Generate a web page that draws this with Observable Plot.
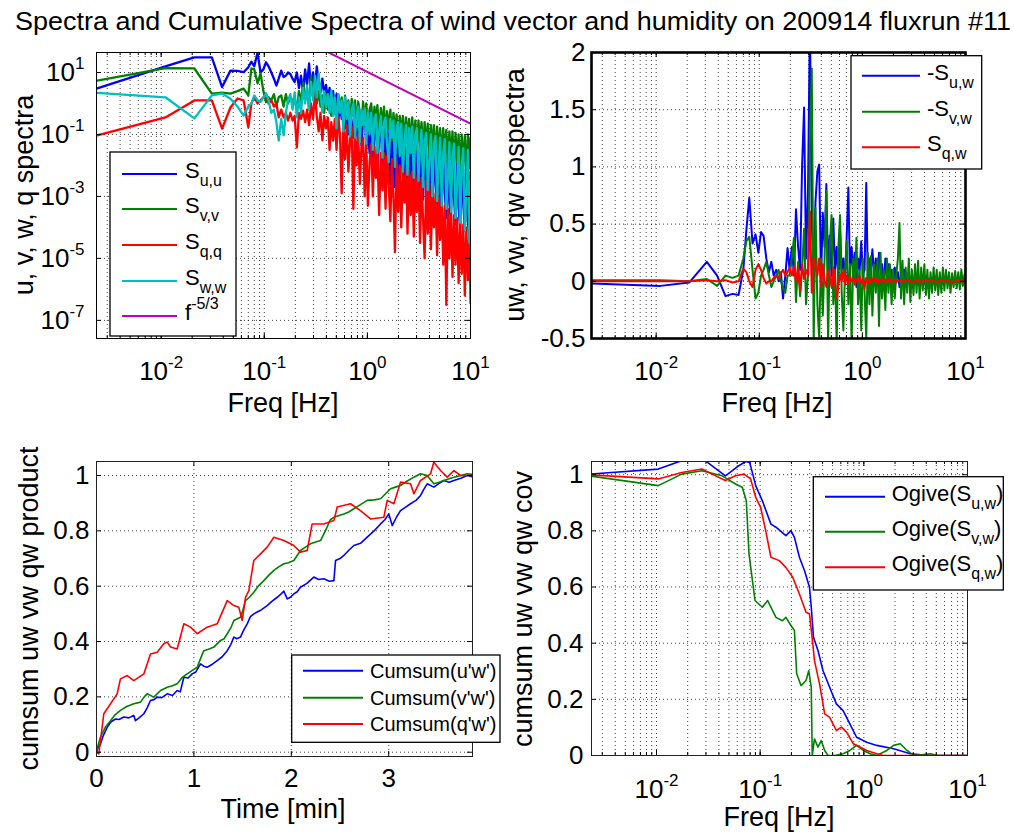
<!DOCTYPE html>
<html><head><meta charset="utf-8">
<script src="https://cdn.jsdelivr.net/npm/d3@7"></script>
<script src="https://cdn.jsdelivr.net/npm/@observablehq/plot@0.6"></script>
<style>
body{margin:0;background:#fff;}
#fig{position:relative;width:1014px;height:835px;overflow:hidden;background:#fff;font-family:"Liberation Sans",Arial,Helvetica,sans-serif;}
#fig svg{position:absolute;overflow:visible;}
</style></head><body><div id="fig"></div>
<script>
// ---------- DATA ----------
const titleText = "Spectra and Cumulative Spectra of wind vector and humidity on 200914 fluxrun #11";

// shared frequency grid (Hz) for spectra and cospectra
const freq = [
0.0024,0.011,0.021,0.031,0.039,0.047,0.055,0.063,0.070,0.075,
0.080,0.086,0.092,0.098,0.104,0.110,0.117,0.124,0.131,0.138,
0.146,0.154,0.162,0.170,0.179,0.188,0.197,0.207,0.217,0.227,
0.238,0.249,0.260,0.272,0.284,0.297,0.310,0.323,0.337,0.351,
0.366,0.381,0.397,0.413,0.430,0.447,0.465,0.483,0.502,0.522,
0.542,0.563,0.585,0.607,0.630,0.654,0.679,0.705,0.731,0.758,
0.786,0.815,0.845,0.876,0.908,0.941,0.975,1.01,1.05,1.09,
1.13,1.17,1.21,1.25,1.30,1.35,1.40,1.45,1.50,1.55,
1.61,1.67,1.73,1.79,1.85,1.92,1.99,2.06,2.13,2.21,
2.29,2.37,2.45,2.54,2.63,2.72,2.82,2.92,3.02,3.13,
3.24,3.35,3.47,3.59,3.72,3.85,3.99,4.13,4.27,4.42,
4.58,4.74,4.91,5.08,5.26,5.44,5.63,5.83,6.03,6.24,
6.46,6.69,6.92,7.16,7.41,7.67,7.94,8.22,8.51,8.81,
9.12,9.44,9.77,10.0];

// spectra, log10 of the value
const suuExp = [
0.49,1.2,1.49,1.49,0.53,1.06,1.05,1.01,1.17,1.35,
1.2,1.64,1.0,1.1,1.33,1.2,1.0,0.8,0.58,0.8,
1.06,0.85,0.9,1.0,0.95,0.8,0.69,1.0,0.5,0.9,
0.4,1.1,0.6,1.29,0.45,1.0,0.5,1.2,0.7,0.36,
0.8,0.3,0.6,0.1,0.5,0.0,0.4,-0.2,0.3,-0.6,
0.1,-0.5,-0.1,-0.8,0.0,-1.0,-0.2,-0.6,-1.1,-0.1,
-0.9,-1.2,-0.3,-1.35,-0.5,-0.2,-1.4,-0.7,-1.6,-0.35,
-1.9,-0.9,-0.4,-2.0,-1.2,-0.5,-2.2,-0.9,-2.4,-0.6,
-1.5,-2.6,-0.7,-2.0,-2.7,-0.8,-1.8,-2.7,-0.85,-2.3,
-2.8,-1.0,-2.0,-2.9,-0.9,-2.5,-3.0,-1.1,-2.2,-3.0,
-1.2,-2.8,-3.1,-1.3,-2.5,-3.2,-1.2,-2.9,-3.3,-1.4,
-2.6,-3.5,-1.4,-3.0,-3.6,-1.5,-2.8,-3.7,-1.6,-3.2,
-3.8,-1.7,-3.0,-3.9,-1.8,-3.4,-4.0,-1.9,-3.2,-4.1,
-2.0,-3.8,-4.35,-2.2];
const svvExp = [
0.74,1.14,1.13,0.32,0.35,0.32,0.4,0.48,0.26,1.13,
1.1,0.65,0.97,0.4,0.04,0.2,0.1,0.3,-0.1,0.2,
0.26,-0.1,0.3,0.0,0.2,0.1,0.16,-0.2,0.4,0.0,
0.68,0.1,0.5,-0.2,0.9,0.2,0.6,0.0,0.4,-0.1,
0.26,-0.3,0.3,-0.2,0.2,-0.4,0.15,-0.3,-0.4,0.3,
-0.2,0.2,-0.5,0.25,-0.3,0.1,-0.6,0.15,-0.4,0.1,
-0.7,0.05,-0.3,-0.75,0.05,-0.5,0.0,-0.8,-0.2,0.0,
-0.9,-0.1,-0.6,-0.05,-1.0,-0.15,-0.7,-0.1,-1.1,-0.25,
-0.8,-0.2,-1.2,-0.3,-0.9,-0.35,-1.29,-0.4,-1.0,-0.4,
-1.35,-0.45,-1.1,-0.5,-1.45,-0.45,-1.2,-0.55,-1.5,-0.55,
-1.3,-0.6,-1.6,-0.6,-1.4,-0.65,-1.7,-0.7,-1.5,-0.7,
-1.8,-0.75,-1.6,-0.8,-1.9,-0.8,-1.7,-0.85,-2.0,-0.9,
-1.8,-0.9,-2.1,-0.95,-1.9,-1.0,-2.2,-1.0,-2.0,-1.05,
-2.26,-1.0,-2.1,-1.1];
const sqqExp = [
-1.03,-0.45,0.1,0.1,-0.81,-0.13,0.16,0.1,-0.77,0.0,
0.2,0.0,0.1,0.2,0.32,0.0,0.1,-0.1,0.0,-0.45,
-0.2,-0.45,-0.3,-0.55,-0.3,-0.55,-0.4,-1.42,-0.3,-0.5,
-0.23,-0.6,-0.2,-0.7,0.0,-0.5,0.32,-0.4,-0.9,-0.3,
-1.19,-0.4,-0.8,-0.45,-1.5,-0.6,-1.2,-0.5,-1.5,-0.45,
-1.0,-2.9,-0.6,-1.8,-0.7,-2.2,-1.2,-0.75,-3.4,-0.9,
-2.0,-1.0,-2.6,-1.4,-1.1,-3.0,-1.2,-3.3,-1.9,-1.3,
-3.0,-1.4,-2.4,-1.45,-3.6,-1.6,-2.8,-1.6,-3.4,-1.7,
-2.6,-3.8,-1.8,-3.0,-4.8,-1.9,-3.5,-2.0,-4.0,-2.1,
-3.2,-2.1,-4.2,-2.15,-3.6,-2.2,-4.3,-2.3,-3.5,-2.35,
-4.5,-2.4,-3.8,-5.0,-2.5,-4.2,-2.6,-4.7,-2.8,-4.0,
-2.9,-4.9,-3.0,-4.4,-3.1,-5.2,-3.3,-6.5,-3.4,-5.0,
-3.5,-5.6,-3.6,-5.2,-3.7,-5.8,-3.8,-5.5,-3.9,-6.2,
-4.0,-5.7,-4.1,-6.45];
const swwExp = [
0.34,0.2,-0.48,0.26,0.32,0.15,-0.1,-0.39,-0.1,0.0,
0.26,0.1,0.05,0.2,0.32,0.1,-0.3,-0.2,-0.6,-1.2,
-0.5,-1.03,-0.3,0.1,0.3,-0.2,0.36,-0.45,0.2,-0.3,
0.5,0.0,0.58,-0.2,0.7,0.1,0.9,0.2,0.97,0.3,
-0.29,0.4,-0.1,0.3,-0.3,0.42,-0.4,0.2,-0.8,0.3,
-0.3,0.1,-0.9,0.2,-0.5,0.05,-1.05,-0.2,0.0,-1.1,
-0.4,-0.1,-1.25,-0.2,-0.7,-0.15,-1.3,-0.3,-1.0,-0.3,
-1.5,-0.5,-0.35,-1.6,-0.9,-0.4,-1.75,-0.6,-0.45,-1.3,
-1.9,-0.5,-1.1,-0.55,-2.05,-0.8,-0.6,-1.7,-0.65,-2.2,
-1.2,-0.7,-2.3,-0.8,-1.6,-0.75,-2.4,-1.0,-0.8,-2.5,
-1.5,-0.85,-2.7,-1.2,-0.95,-2.8,-1.8,-1.0,-3.0,-1.3,
-1.05,-3.15,-2.0,-1.1,-3.3,-1.6,-1.15,-3.4,-2.4,-1.25,
-3.5,-1.7,-1.3,-3.7,-2.6,-1.4,-3.85,-2.0,-1.45,-4.1,
-2.8,-1.5,-4.5,-2.5];
// f^-5/3 reference line (end points)
const slopeF = [0.3, 10];
const slopeS = [77.6, 0.224];

// cospectra (linear)
const suw = [
-0.02,-0.04,-0.01,0.17,0.05,-0.13,-0.11,-0.12,0.1,0.45,
0.73,0.33,0.41,0.25,0.43,0.4,0.2,0.08,0.17,0.05,
0.1,0.0,0.08,-0.15,0.05,0.29,0.1,0.3,0.05,0.63,
0.3,0.1,1.0,1.52,0.2,0.8,2.3,0.5,0.1,0.7,
0.96,1.02,0.0,0.6,0.3,0.85,0.1,0.4,0.05,0.55,
0.1,0.3,0.0,0.45,0.1,0.2,0.0,0.4,0.82,0.05,
0.3,0.1,0.25,-0.05,0.2,0.1,0.35,0.05,0.1,0.86,
0.0,0.2,0.1,0.28,0.05,0.2,0.0,0.25,0.1,0.15,
-0.05,0.2,0.05,0.15,0.0,0.1,-0.03,0.12,0.02,0.08,
-0.05,0.06,0.0,0.1,-0.03,0.05,0.0,0.04,-0.05,0.03,
-0.02,0.04,-0.03,0.03,0.0,0.03,-0.02,0.02,-0.03,0.02,
0.0,0.03,-0.02,0.02,-0.01,0.02,0.0,0.02,-0.02,0.01,
0.0,0.02,-0.01,0.01,0.0,0.02,-0.01,0.01,0.0,0.01,
-0.01,0.01,0.0,0.01];
const svw = [
0.01,0.01,0.0,0.02,-0.04,0.05,0.03,0.05,0.2,0.35,
0.39,0.1,-0.15,-0.1,0.05,0.1,0.17,0.05,-0.05,0.0,
0.05,0.1,0.0,-0.06,-0.1,0.05,0.05,0.2,0.38,-0.18,
0.17,-0.13,0.1,0.46,-0.2,0.05,1.23,1.86,-0.55,0.64,
-0.2,-0.5,0.2,-0.3,0.2,0.79,-0.55,0.3,0.58,-0.2,
0.1,-0.55,0.3,0.58,-0.1,-0.43,0.1,0.35,-0.2,0.15,
-0.55,0.2,0.0,0.38,-0.2,0.1,-0.43,0.2,-0.1,-0.5,
0.25,-0.2,0.22,-0.3,0.15,-0.1,0.2,-0.39,0.25,-0.15,
0.1,-0.25,0.2,-0.1,0.15,-0.2,0.1,-0.15,0.05,0.2,
0.51,-0.15,0.18,-0.2,0.12,-0.1,0.2,-0.18,0.1,-0.12,
0.15,-0.1,0.18,-0.15,0.12,-0.08,0.15,-0.12,0.1,-0.15,
0.08,-0.1,0.12,-0.08,0.1,-0.12,0.08,-0.1,0.12,-0.08,
0.1,-0.06,0.08,-0.1,0.07,-0.05,0.09,-0.06,0.08,-0.07,
0.1,-0.04,0.06,0.03];
const sqw = [
0.0,0.0,0.0,0.01,0.0,0.01,-0.01,0.0,0.11,0.08,
0.0,-0.05,0.1,0.15,0.1,0.03,-0.02,0.0,0.0,0.03,
0.05,0.02,0.07,0.1,0.05,0.08,0.12,0.05,0.13,0.0,
0.12,-0.08,0.15,0.02,0.1,0.05,0.61,-0.1,0.2,0.15,
0.05,0.2,-0.05,0.15,0.0,-0.05,0.1,0.05,-0.05,0.12,
0.0,-0.15,-0.04,0.06,0.0,0.1,-0.03,0.05,-0.02,0.04,
0.0,0.03,-0.03,0.02,0.0,0.04,-0.02,0.02,-0.06,0.03,
-0.02,0.02,-0.01,0.02,0.0,0.03,-0.02,0.01,0.0,0.02,
-0.01,0.01,0.0,0.02,-0.01,0.01,0.0,0.01,-0.01,0.01,
0.0,0.01,-0.01,0.01,0.0,0.01,0.0,0.01,-0.01,0.0,
0.01,0.0,0.01,-0.01,0.0,0.01,0.0,0.0,0.01,0.0,
0.0,0.01,0.0,0.0,-0.01,0.0,0.01,0.0,0.0,0.0,
0.01,0.0,0.0,0.0,-0.01,0.0,0.0,0.01,0.0,0.0,
0.0,0.0,0.0,0.0];

// cumulative sums (time in minutes)
const uwT = [0,0.02,0.041,0.07,0.09,0.110,0.15,0.195,0.23,0.281,0.33,0.383,0.400,0.44,0.486,0.52,0.554,0.59,0.623,0.67,0.726,0.78,0.828,0.86,0.880,0.897,0.94,0.982,1.02,1.068,1.10,1.136,1.19,1.239,1.29,1.342,1.38,1.410,1.44,1.478,1.51,1.547,1.58,1.615,1.68,1.752,1.80,1.855,1.89,1.923,1.958,1.99,2.026,2.06,2.094,2.16,2.231,2.28,2.334,2.39,2.437,2.454,2.50,2.539,2.59,2.642,2.71,2.779,2.85,2.916,2.96,3.001,3.036,3.08,3.121,3.17,3.224,3.28,3.327,3.36,3.395,3.463,3.51,3.566,3.62,3.669,3.74,3.806,3.857];
const uwV = [0,0.02,0.030,0.06,0.075,0.090,0.11,0.120,0.118,0.127,0.124,0.133,0.114,0.125,0.139,0.16,0.187,0.19,0.199,0.197,0.211,0.205,0.223,0.218,0.247,0.271,0.268,0.283,0.29,0.319,0.311,0.307,0.318,0.331,0.345,0.367,0.39,0.416,0.41,0.416,0.44,0.464,0.49,0.500,0.512,0.530,0.545,0.560,0.57,0.582,0.554,0.56,0.572,0.58,0.596,0.61,0.633,0.624,0.627,0.618,0.620,0.693,0.70,0.711,0.73,0.747,0.755,0.777,0.80,0.825,0.84,0.861,0.819,0.85,0.873,0.885,0.898,0.91,0.928,0.95,0.970,0.958,0.97,0.982,0.976,0.982,0.99,1.000,0.996];
const vwT = [0,0.02,0.041,0.09,0.144,0.19,0.246,0.31,0.383,0.452,0.49,0.520,0.589,0.657,0.726,0.78,0.828,0.88,0.931,0.98,1.034,1.07,1.102,1.15,1.205,1.273,1.31,1.342,1.38,1.410,1.478,1.50,1.530,1.57,1.615,1.66,1.718,1.77,1.821,1.87,1.923,1.97,2.026,2.094,2.14,2.197,2.25,2.300,2.35,2.40,2.437,2.539,2.59,2.642,2.71,2.779,2.85,2.916,2.97,3.018,3.07,3.121,3.19,3.258,3.327,3.395,3.463,3.51,3.566,3.62,3.669,3.74,3.806,3.857];
const vwV = [0,0.03,0.054,0.09,0.114,0.135,0.151,0.165,0.175,0.181,0.20,0.211,0.199,0.223,0.235,0.24,0.247,0.27,0.283,0.295,0.307,0.34,0.367,0.372,0.380,0.404,0.41,0.428,0.45,0.476,0.488,0.51,0.548,0.56,0.578,0.60,0.620,0.64,0.657,0.67,0.681,0.685,0.693,0.729,0.74,0.753,0.76,0.765,0.80,0.84,0.849,0.861,0.868,0.880,0.895,0.910,0.912,0.916,0.935,0.952,0.958,0.964,0.98,0.994,1.006,1.000,0.970,0.975,0.982,0.988,0.994,1.0,1.006,1.004];
const qwT = [0,0.024,0.075,0.144,0.212,0.246,0.315,0.383,0.486,0.520,0.554,0.623,0.691,0.726,0.760,0.828,0.897,0.965,1.034,1.136,1.239,1.342,1.410,1.461,1.496,1.530,1.564,1.615,1.684,1.752,1.821,1.923,2.026,2.094,2.163,2.214,2.334,2.437,2.471,2.608,2.710,2.813,2.950,2.984,3.053,3.121,3.224,3.258,3.327,3.429,3.463,3.532,3.600,3.669,3.737,3.857];
const qwV = [0,-0.006,0.139,0.175,0.211,0.265,0.277,0.259,0.283,0.319,0.355,0.361,0.392,0.398,0.380,0.373,0.464,0.452,0.428,0.452,0.464,0.548,0.530,0.524,0.476,0.560,0.584,0.693,0.717,0.741,0.777,0.765,0.747,0.723,0.729,0.825,0.825,0.837,0.886,0.898,0.873,0.843,0.849,0.910,0.898,0.976,0.970,0.934,0.982,1.006,1.048,1.018,0.994,1.018,1.000,1.000];

// ogives
const ogUwF = [0.00221,0.0104,0.0175,0.0236,0.0295,0.0462,0.0623,0.0724,0.0792,0.0906,0.105,0.127,0.142,0.177,0.198,0.214,0.239,0.268,0.299,0.311,0.327,0.361,0.404,0.468,0.543,0.631,0.733,0.851,1.065,1.333,1.937,2.812,4.40,10];
const ogUwV = [1.002,1.020,1.050,1.074,1.050,0.996,1.032,1.047,1.044,0.961,0.907,0.824,0.813,0.783,0.801,0.777,0.706,0.658,0.599,0.528,0.421,0.374,0.302,0.243,0.184,0.160,0.113,0.065,0.047,0.036,0.024,0.006,0.0,0.0];
const ogVwF = [0.00221,0.0104,0.0175,0.0274,0.0430,0.0578,0.0672,0.0735,0.0780,0.0892,0.105,0.118,0.142,0.164,0.177,0.198,0.214,0.225,0.248,0.277,0.294,0.311,0.318,0.334,0.361,0.388,0.419,0.451,0.524,0.631,0.733,0.851,0.989,1.148,1.333,1.667,1.937,2.25,2.61,3.03,4.40,5.11,10];
const ogVwV = [0.996,0.961,1.002,1.014,0.996,0.967,0.955,0.907,0.718,0.552,0.528,0.552,0.492,0.480,0.492,0.463,0.445,0.291,0.249,0.267,0.302,0.243,0.0,0.059,0.030,0.053,0.018,0.0,0.0,0.006,0.018,0.036,0.018,0.006,0.0,0.018,0.036,0.042,0.018,0.0,0.006,0.0,0.0];
const ogQwF = [0.00221,0.0104,0.0175,0.0274,0.0343,0.0462,0.0578,0.0697,0.0809,0.0906,0.101,0.113,0.127,0.153,0.177,0.206,0.239,0.277,0.299,0.322,0.334,0.374,0.419,0.468,0.543,0.608,0.681,0.791,0.917,1.065,1.333,1.545,10];
const ogQwV = [1.000,0.985,1.008,1.020,1.002,0.979,0.996,1.002,0.985,0.919,0.884,0.801,0.706,0.694,0.670,0.635,0.575,0.510,0.504,0.397,0.338,0.255,0.148,0.136,0.089,0.101,0.083,0.042,0.030,0.018,0.006,0.0,0.0];

// tick values
const logTicksX = [0.01, 0.1, 1, 10];
const p1TicksY = [10, 0.1, 1e-3, 1e-5, 1e-7];
const p2TicksY = [-0.5, 0, 0.5, 1, 1.5, 2];
const p3TicksX = [0, 1, 2, 3];
const unitTicksY = [0, 0.2, 0.4, 0.6, 0.8, 1];

// axis labels
const p1Labels = ["Freq [Hz]", "u, v, w, q spectra"];
const p2Labels = ["Freq [Hz]", "uw, vw, qw cospectra"];
const p3Labels = ["Time [min]", "cumsum uw vw qw product"];
const p4Labels = ["Freq [Hz]", "cumsum uw vw qw cov"];

// legend labels [main, subscript, trailing / superscript]
const p1Legend = [["S","u,u",""],["S","v,v",""],["S","q,q",""],["S","w,w",""],["f","","-5/3"]];
const p2Legend = [["-S","u,w"],["-S","v,w"],["S","q,w"]];
const p3Legend = ["Cumsum(u'w')","Cumsum(v'w')","Cumsum(q'w')"];
const p4Legend = [["Ogive(S","u,w",")"],["Ogive(S","v,w",")"],["Ogive(S","q,w",")"]];

// ---------- STYLE ----------
const FONT = '"Liberation Sans", Arial, Helvetica, sans-serif';
const BLUE = "#0000ff", GREEN = "#008000", RED = "#ff0000", CYAN = "#00bfbf", MAGENTA = "#bf00bf";
const fig = document.getElementById("fig");
const NS = "http://www.w3.org/2000/svg";

function place(svg, left, top) {
  svg.style.left = left + "px"; svg.style.top = top + "px";
  fig.appendChild(svg);
}
function supify(svg) {
  svg.querySelectorAll("text").forEach(t => {
    const s = t.textContent;
    if (!s.includes("^")) return;
    const [base, exp] = s.split("^");
    t.textContent = "";
    const a = document.createElementNS(NS, "tspan"); a.textContent = base; t.appendChild(a);
    const b = document.createElementNS(NS, "tspan"); b.textContent = exp;
    b.setAttribute("dy", "-12"); b.setAttribute("font-size", "17"); t.appendChild(b);
  });
}
const dottedOpts = {stroke: "#000", strokeWidth: 1, strokeDasharray: "1,3", strokeOpacity: 0.75};
function minorLog(lo, hi) {
  const out = [];
  for (const d of [0.001, 0.01, 0.1, 1, 10]) for (let k = 1; k <= 9; k++) {
    const v = +(k * d).toPrecision(6); if (v >= lo && v <= hi) out.push(v);
  }
  return out;
}
function ticksX(values, H, len) {
  return [Plot.tickX(values, {stroke: "#000", insetTop: H - len}),
          Plot.tickX(values, {stroke: "#000", insetBottom: H - len})];
}
function ticksY(values, W, len) {
  return [Plot.tickY(values, {stroke: "#000", insetRight: W - len}),
          Plot.tickY(values, {stroke: "#000", insetLeft: W - len})];
}
const expFmt = d => "10^" + Math.round(Math.log10(d));
const styleObj = {fontFamily: FONT, fontSize: "26px", background: "transparent", color: "#000", overflow: "visible"};

// axis titles: xl = [cx, baseline], yl = [baselineX, cy]
function axisTitles(svg, labels, xl, yl) {
  const g = d3.select(svg).append("g").attr("font-family", FONT).attr("font-size", 27)
    .attr("fill", "#000").attr("text-anchor", "middle");
  g.append("text").attr("x", xl[0]).attr("y", xl[1]).text(labels[0]);
  g.append("text").attr("transform", `translate(${yl[0]},${yl[1]}) rotate(-90)`).text(labels[1]);
}

function legend(svg, box, ys, lx1, lx2, tx, colors, labels, fs, subfs, baseOff, subDy) {
  const g = d3.select(svg).append("g").attr("font-family", FONT).attr("fill", "#000")
    .attr("text-anchor", "start");
  g.append("rect").attr("x", box[0]).attr("y", box[1]).attr("width", box[2] - box[0]).attr("height", box[3] - box[1])
    .attr("fill", "#fff").attr("stroke", "#000").attr("stroke-width", 1.3);
  labels.forEach((lab, i) => {
    g.append("line").attr("x1", lx1).attr("x2", lx2).attr("y1", ys[i]).attr("y2", ys[i])
      .attr("stroke", colors[i]).attr("stroke-width", 2);
    const t = g.append("text").attr("x", tx).attr("y", ys[i] + baseOff).attr("font-size", fs);
    if (typeof lab === "string") { t.text(lab); return; }
    t.append("tspan").text(lab[0]);
    if (lab[1]) t.append("tspan").attr("font-size", subfs).attr("dy", subDy).text(lab[1]);
    if (lab[2] !== undefined && lab[2] !== "") {
      if (lab[1]) t.append("tspan").attr("dy", -subDy).text(lab[2]);
      else t.append("tspan").attr("font-size", subfs).attr("dy", -11).text(lab[2]);
    }
  });
}

// ---------- TITLE ----------
{
  const s = d3.create("svg").attr("width", 1014).attr("height", 40);
  s.append("text").attr("x", 513).attr("y", 30).attr("text-anchor", "middle")
    .attr("font-family", FONT).attr("font-size", 26)
    .attr("textLength", 996).attr("lengthAdjust", "spacingAndGlyphs").text(titleText);
  place(s.node(), 0, 0);
}

// ---------- PANEL 1 ----------
{
  const W = 507, H = 385, mL = 96, mR = 37, mT = 12, mB = 87;
  const fw = W - mL - mR, fh = H - mT - mB;
  const xDom = [0.00236, 10];
  const mk = arr => freq.map((f, i) => ({f, v: Math.pow(10, arr[i])}));
  const slope = slopeF.map((f, i) => ({f, v: slopeS[i]}));
  const lw = 2.3;
  const p = Plot.plot({
    width: W, height: H, marginLeft: mL, marginRight: mR, marginTop: mT, marginBottom: mB,
    style: styleObj,
    x: {type: "log", domain: xDom},
    y: {type: "log", domain: [2.6e-8, 44.2]},
    marks: [
      Plot.ruleX(minorLog(xDom[0], xDom[1]), dottedOpts),
      Plot.ruleY(p1TicksY, dottedOpts),
      Plot.line(mk(suuExp), {x: "f", y: "v", stroke: BLUE, strokeWidth: lw, clip: true}),
      Plot.line(mk(svvExp), {x: "f", y: "v", stroke: GREEN, strokeWidth: lw, clip: true}),
      Plot.line(mk(sqqExp), {x: "f", y: "v", stroke: RED, strokeWidth: lw, clip: true}),
      Plot.line(mk(swwExp), {x: "f", y: "v", stroke: CYAN, strokeWidth: lw, clip: true}),
      Plot.line(slope, {x: "f", y: "v", stroke: MAGENTA, strokeWidth: 2, clip: true}),
      ...ticksX(logTicksX, fh, 5), ...ticksX(minorLog(xDom[0], xDom[1]), fh, 3),
      ...ticksY(p1TicksY, fw, 5),
      Plot.frame({stroke: "#000", strokeWidth: 1}),
      Plot.axisX({ticks: logTicksX, tickFormat: expFmt, tickSize: 0, tickPadding: 23.5, label: null}),
      Plot.axisY({ticks: p1TicksY, tickFormat: expFmt, tickSize: 0, tickPadding: 12, label: null})
    ]
  });
  supify(p);
  axisTitles(p, p1Labels, [283, 371.5], [33, 155]);
  legend(p, [110, 112, 236, 296], [134, 169, 205, 241, 276], 122, 177, 185,
    [BLUE, GREEN, RED, CYAN, MAGENTA], p1Legend, 22, 16, 4, 8);
  place(p, 0, 40);
}

// ---------- PANEL 2 ----------
{
  const W = 507, H = 385, mL = 84, mR = 49, mT = 12, mB = 87;
  const fw = W - mL - mR, fh = H - mT - mB;
  const xDom = [0.00236, 10];
  const mk = arr => freq.map((f, i) => ({f, v: arr[i]}));
  const p = Plot.plot({
    width: W, height: H, marginLeft: mL, marginRight: mR, marginTop: mT, marginBottom: mB,
    style: styleObj,
    x: {type: "log", domain: xDom},
    y: {domain: [-0.5, 2]},
    marks: [
      Plot.ruleX(minorLog(xDom[0], xDom[1]), dottedOpts),
      Plot.ruleY([0, 0.5, 1, 1.5], dottedOpts),
      Plot.line(mk(suw), {x: "f", y: "v", stroke: BLUE, strokeWidth: 2, clip: true}),
      Plot.line(mk(svw), {x: "f", y: "v", stroke: GREEN, strokeWidth: 2, clip: true}),
      Plot.line(mk(sqw), {x: "f", y: "v", stroke: RED, strokeWidth: 2, clip: true}),
      ...ticksX(logTicksX, fh, 5), ...ticksX(minorLog(xDom[0], xDom[1]), fh, 3),
      ...ticksY(p2TicksY, fw, 5),
      Plot.frame({stroke: "#000", strokeWidth: 2.6}),
      Plot.axisX({ticks: logTicksX, tickFormat: expFmt, tickSize: 0, tickPadding: 23.5, label: null}),
      Plot.axisY({ticks: p2TicksY, tickFormat: d => String(d), tickSize: 0, tickPadding: 6, label: null})
    ]
  });
  supify(p);
  axisTitles(p, p2Labels, [270, 371.5], [17, 155]);
  legend(p, [344, 15.7, 474.7, 129], [35.7, 71.7, 107.3], 355, 413, 420,
    [BLUE, GREEN, RED], p2Legend, 22, 16, 4, 8);
  place(p, 507, 40);
}

// ---------- PANEL 3 ----------
{
  const W = 507, H = 410, mL = 96, mR = 35, mT = 36, mB = 79;
  const fw = W - mL - mR, fh = H - mT - mB;
  const mk = (T, V) => T.map((t, i) => ({t, v: V[i]}));
  const p = Plot.plot({
    width: W, height: H, marginLeft: mL, marginRight: mR, marginTop: mT, marginBottom: mB,
    style: styleObj,
    x: {domain: [0, 3.86]},
    y: {domain: [-0.0155, 1.0506]},
    marks: [
      Plot.ruleX([1, 2, 3], dottedOpts),
      Plot.ruleY(unitTicksY, dottedOpts),
      Plot.line(mk(uwT, uwV), {x: "t", y: "v", stroke: BLUE, strokeWidth: 1.6, clip: true}),
      Plot.line(mk(vwT, vwV), {x: "t", y: "v", stroke: GREEN, strokeWidth: 1.6, clip: true}),
      Plot.line(mk(qwT, qwV), {x: "t", y: "v", stroke: RED, strokeWidth: 1.6, clip: true}),
      ...ticksX(p3TicksX, fh, 5), ...ticksY(unitTicksY, fw, 5),
      Plot.frame({stroke: "#222", strokeWidth: 1}),
      Plot.axisX({ticks: p3TicksX, tickFormat: d => String(d), tickSize: 0, tickPadding: 12.5, label: null}),
      Plot.axisY({ticks: unitTicksY, tickFormat: d => String(d), tickSize: 0, tickPadding: 7, label: null})
    ]
  });
  axisTitles(p, p3Labels, [283, 393], [38, 183.5]);
  legend(p, [291.7, 230, 500, 317.3], [245.7, 272.7, 299], 303, 363, 370,
    [BLUE, GREEN, RED], p3Legend, 20, 16, 7, 8);
  place(p, 0, 425);
}

// ---------- PANEL 4 ----------
{
  const W = 507, H = 410, mL = 84, mR = 47, mT = 36, mB = 80;
  const fw = W - mL - mR, fh = H - mT - mB;
  const xDom = [0.00236, 10];
  const mk = (F, V) => F.map((f, i) => ({f, v: V[i]}));
  const p = Plot.plot({
    width: W, height: H, marginLeft: mL, marginRight: mR, marginTop: mT, marginBottom: mB,
    style: styleObj,
    x: {type: "log", domain: xDom},
    y: {domain: [0, 1.047]},
    marks: [
      Plot.ruleX(minorLog(xDom[0], xDom[1]), dottedOpts),
      Plot.ruleY(unitTicksY, dottedOpts),
      Plot.line(mk(ogUwF, ogUwV), {x: "f", y: "v", stroke: BLUE, strokeWidth: 1.6, clip: true}),
      Plot.line(mk(ogVwF, ogVwV), {x: "f", y: "v", stroke: GREEN, strokeWidth: 1.6, clip: true}),
      Plot.line(mk(ogQwF, ogQwV), {x: "f", y: "v", stroke: RED, strokeWidth: 1.6, clip: true}),
      ...ticksX(logTicksX, fh, 5), ...ticksX(minorLog(xDom[0], xDom[1]), fh, 3),
      ...ticksY(unitTicksY, fw, 5),
      Plot.frame({stroke: "#222", strokeWidth: 1}),
      Plot.axisX({ticks: logTicksX, tickFormat: expFmt, tickSize: 0, tickPadding: 24.5, label: null}),
      Plot.axisY({ticks: unitTicksY, tickFormat: d => String(d), tickSize: 0, tickPadding: 8, label: null})
    ]
  });
  supify(p);
  axisTitles(p, p4Labels, [272, 401], [25, 184]);
  legend(p, [306.3, 51.7, 496.3, 165], [71.7, 106.7, 142.3], 318, 378, 384.7,
    [BLUE, GREEN, RED], p4Legend, 22, 16, 4, 8);
  place(p, 507, 425);
}
</script></body></html>
